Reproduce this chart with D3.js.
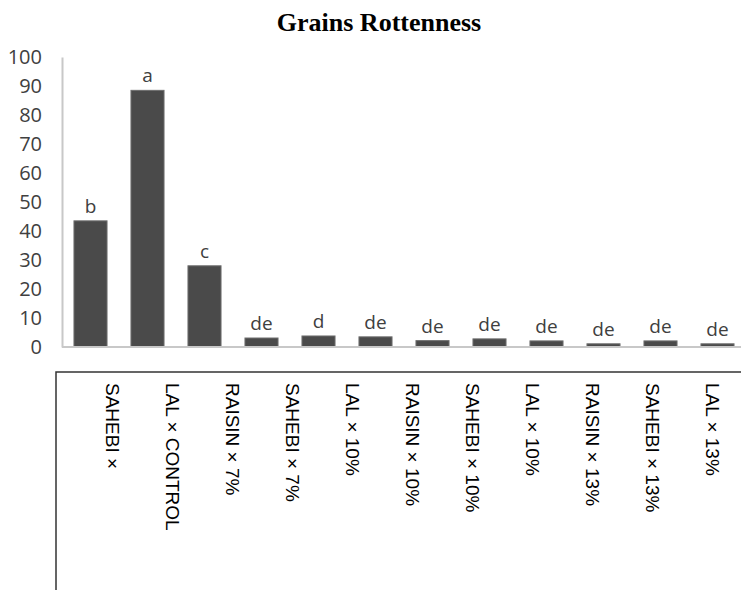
<!DOCTYPE html>
<html>
<head>
<meta charset="utf-8">
<script src="https://cdnjs.cloudflare.com/ajax/libs/d3/7.8.5/d3.min.js"></script>
<style>
  body { margin: 0; background: #fff; }
  svg { display: block; }
</style>
</head>
<body>
<div class="container"></div>
<script>
// bars, in drawing order
var bars = ["1","2","3","4","5","6","7","8","9","10","11","12"];
var rotten = [43.5, 88.5, 28, 3.1, 3.8, 3.5, 2.2, 2.8, 2.1, 1.1, 2.1, 1.1];
var letters = ["b","a","c","de","d","de","de","de","de","de","de","de"];

// the category text under the chart (only 11 in the source)
var categories = ["SAHEBI ×", "LAL × CONTROL", "RAISIN × 7%", "SAHEBI × 7%", "LAL × 10%",
  "RAISIN × 10%", "SAHEBI × 10%", "LAL × 10%", "RAISIN × 13%", "SAHEBI × 13%", "LAL × 13%"];

var yTicks = [0, 10, 20, 30, 40, 50, 60, 70, 80, 90, 100];

var width = 741, height = 590;

var svg = d3.select('.container')
    .append('svg').attr('width', width).attr('height', height);

var x = d3.scaleBand().domain(bars).range([62, 746])
    .paddingInner(0.42).paddingOuter(0.21);
var y = d3.scaleLinear().domain([0, 100]).range([347, 57]);

// title
svg.append('text')
    .attr('x', 379).attr('y', 31)
    .attr('text-anchor', 'middle')
    .style('font-family', '"Liberation Serif", "Times New Roman", serif')
    .style('font-weight', 'bold')
    .style('font-size', '26px')
    .text('Grains Rottenness');

// y axis
var yAxis = svg.append('g')
    .attr('transform', 'translate(62,0)')
    .call(d3.axisLeft(y).tickValues(yTicks).tickSize(0).tickPadding(20));
yAxis.select('.domain').attr('stroke', '#c8c8c8').attr('stroke-width', 2);
yAxis.selectAll('text')
    .style('font-family', '"Open Sans", "Liberation Sans", sans-serif')
    .style('font-size', '20px')
    .attr('fill', '#404040');

// bars
svg.selectAll('rect.bar').data(rotten).enter().append('rect')
    .attr('class', 'bar')
    .attr('x', function(d, i) { return x(bars[i]); })
    .attr('y', function(d) { return y(d); })
    .attr('width', x.bandwidth())
    .attr('height', function(d) { return y(0) - y(d); })
    .style('fill', '#4a4a4a')
    .style('stroke', '#6e6e6e')
    .style('stroke-width', 1);

// baseline
svg.append('line')
    .attr('x1', 62).attr('x2', width)
    .attr('y1', y(0)).attr('y2', y(0))
    .attr('stroke', '#c8c8c8').attr('stroke-width', 2);

// significance letters
svg.selectAll('text.letter').data(letters).enter().append('text')
    .attr('class', 'letter')
    .attr('x', function(d, i) { return x(bars[i]) + x.bandwidth() / 2; })
    .attr('y', function(d, i) { return y(rotten[i]) - 8; })
    .attr('text-anchor', 'middle')
    .style('font-family', '"Open Sans", "Liberation Sans", sans-serif')
    .style('font-size', '19px')
    .attr('fill', '#404040')
    .text(function(d) { return d; });

// box under the chart
svg.append('path')
    .attr('d', 'M56,' + height + 'V372H' + width)
    .attr('fill', 'none')
    .attr('stroke', '#333')
    .attr('stroke-width', 1.5);

// category labels, rotated
var xl = d3.scalePoint().domain(d3.range(categories.length)).range([113, 713]);
svg.selectAll('text.cat').data(categories).enter().append('text')
    .attr('class', 'cat')
    .attr('transform', function(d, i) { return 'translate(' + xl(i) + ',383) rotate(90)'; })
    .attr('dy', '0.36em')
    .style('font-family', '"Liberation Sans", Arial, sans-serif')
    .style('font-size', '19px')
    .attr('fill', '#000')
    .text(function(d) { return d; });
</script>
</body>
</html>
